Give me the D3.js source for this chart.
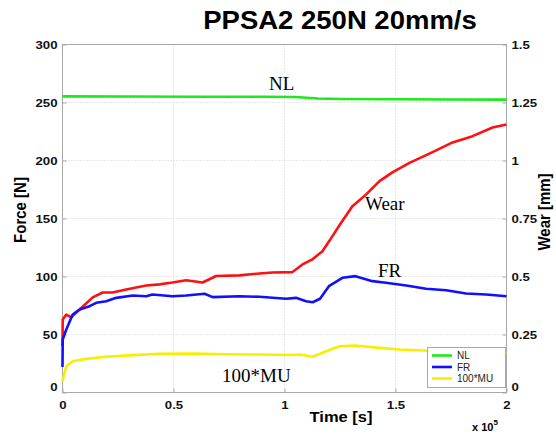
<!DOCTYPE html>
<html><head><meta charset="utf-8">
<script src="https://cdn.jsdelivr.net/npm/d3@7"></script>
<style>
body{margin:0;background:#fff;}
svg{display:block;}
</style></head>
<body><svg id="c" width="556" height="434"></svg>
<script>
// ---- data (time in units of 1e5 s) ----
const nlTime = [0,0.3,0.6,0.9,1.05,1.15,1.25,1.5,1.75,2.0];
const nlForce = [255.3,255.2,255.0,255.0,254.8,253.5,253.0,252.8,252.6,252.5];

const frTime = [0,0.001,0.017,0.046,0.077,0.122,0.152,0.197,0.242,0.317,0.377,0.405,0.495,0.557,0.640,0.676,0.797,0.887,1.007,1.052,1.097,1.127,1.16,1.20,1.261,1.32,1.396,1.457,1.548,1.638,1.728,1.818,1.908,2.0];
const frForce = [22,45.7,54.3,67.2,71.6,74.4,77.3,78.7,81.6,83.6,83.0,84.5,83.0,83.6,85.1,82.2,83.0,82.5,80.8,81.6,78.7,77.8,80.8,91.7,98.9,100.3,96.0,94.6,92.3,89.4,88.2,85.3,84.5,83.0];

const muTime = [0,0.017,0.046,0.107,0.197,0.317,0.437,0.586,0.737,0.887,1.036,1.07,1.126,1.188,1.248,1.32,1.428,1.518,1.622,1.8,2.0];
const mu100 = [9.7,22.7,27.0,29.0,30.8,32.2,33.4,33.6,33.0,32.8,32.3,32.8,30.8,35.6,39.9,40.5,38.5,37.1,36.2,35,34];

const wearTime = [0,0.001,0.017,0.039,0.077,0.136,0.181,0.225,0.287,0.377,0.437,0.495,0.557,0.631,0.692,0.797,0.887,0.946,1.036,1.081,1.126,1.171,1.216,1.255,1.306,1.368,1.428,1.486,1.563,1.667,1.757,1.847,1.937,2.0];
const wearMm = [0.20,0.315,0.336,0.324,0.358,0.41,0.431,0.431,0.444,0.461,0.466,0.474,0.484,0.474,0.502,0.505,0.513,0.517,0.519,0.552,0.574,0.609,0.674,0.732,0.803,0.854,0.911,0.949,0.99,1.036,1.078,1.105,1.142,1.155];

const xTicks = [0,0.5,1,1.5,2];
const forceTicks = [0,50,100,150,200,250,300];
const wearTicks = [0,0.25,0.5,0.75,1,1.25,1.5];
const legendLabels = ["NL","FR","100*MU"];

// ---- layout ----
const SANS="'Liberation Sans',Arial,sans-serif";
const SERIF="'Liberation Serif','Times New Roman',serif";
const L=62.5, R=506.5, T=44.5, B=392.5;
const svg=d3.select("#c");
const x=d3.scaleLinear().domain([0,2]).range([L,R]);
const yF=d3.scaleLinear().domain([0,300]).range([B,T]);
const yW=d3.scaleLinear().domain([0,1.5]).range([B,T]);

// grid
const g=svg.append("g");
g.selectAll(".vg").data(xTicks.slice(1,-1)).join("line")
 .attr("x1",d=>x(d)).attr("x2",d=>x(d)).attr("y1",T).attr("y2",B)
 .attr("stroke","#d0d0d0").attr("stroke-dasharray","1,2");
g.selectAll(".hg").data(forceTicks.slice(1,-1)).join("line")
 .attr("x1",L).attr("x2",R).attr("y1",d=>yF(d)).attr("y2",d=>yF(d))
 .attr("stroke","#d0d0d0").attr("stroke-dasharray","1,2");

// frame
svg.append("rect").attr("x",L).attr("y",T).attr("width",R-L).attr("height",B-T)
 .attr("fill","none").attr("stroke","#a8a8a8").attr("stroke-width",1);

// axes
const SX=1.15;
const axStyle=(sel)=>{sel.select(".domain").remove();
 sel.selectAll("line").attr("stroke","#a8a8a8");
 sel.selectAll("text").style("font-family",SANS).attr("font-weight","bold").attr("font-size","11.5px").attr("fill","#111")
  .attr("transform",function(){const tx=+(this.getAttribute("x")||0);return `translate(${tx},0) scale(${SX},1) translate(${-tx},0)`;});};
svg.append("g").attr("transform",`translate(0,${B})`)
 .call(d3.axisBottom(x).tickValues(xTicks).tickSize(-4).tickPadding(8).tickFormat(d3.format("~g")))
 .call(axStyle);
svg.append("g").attr("transform",`translate(${L},0)`)
 .call(d3.axisLeft(yF).tickValues(forceTicks).tickSize(-4).tickPadding(5))
 .call(axStyle)
 .call(s=>s.selectAll("text").filter(d=>d===0).attr("dy","-0.2em"));
svg.append("g").attr("transform",`translate(${R},0)`)
 .call(d3.axisRight(yW).tickValues(wearTicks).tickSize(-4).tickPadding(5).tickFormat(d3.format("~g")))
 .call(axStyle)
 .call(s=>s.selectAll("text").filter(d=>d===0).attr("dy","-0.2em"));

// lines
const lineF=(tt)=>d3.line().x((d,i)=>x(tt[i])).y(d=>yF(d));
const lineW=d3.line().x((d,i)=>x(wearTime[i])).y(d=>yW(d));
const draw=(path,data,color)=>svg.append("path").datum(data).attr("d",path)
 .attr("fill","none").attr("stroke",color).attr("stroke-width",2.6).attr("stroke-linejoin","round");
draw(lineF(nlTime),nlForce,"#1ee81e");
draw(lineW,wearMm,"#ff1010");
draw(lineF(frTime),frForce,"#1010ff");
draw(lineF(muTime),mu100,"#f5f000");

// annotations (serif)
const ann=[["NL",269,90],["Wear",365,210],["FR",378,277],["100*MU",222,382]];
svg.selectAll(".ann").data(ann).join("text")
 .attr("x",d=>d[1]).attr("y",d=>d[2]).text(d=>d[0])
 .style("font-family",SERIF).attr("font-size","19px").attr("fill","#000");

// legend
const lg=svg.append("g");
lg.append("rect").attr("x",427.5).attr("y",347.5).attr("width",78).attr("height",40)
 .attr("fill","#fff").attr("stroke","#a8a8a8");
const legCol=["#1ee81e","#1010ff","#f5f000"];
legendLabels.forEach((lab,i)=>{
 const yy=355.5+i*11.5;
 lg.append("line").attr("x1",432).attr("x2",452).attr("y1",yy).attr("y2",yy).attr("stroke",legCol[i]).attr("stroke-width",2.6);
 lg.append("text").attr("x",457).attr("y",yy+3.5).text(lab).style("font-family",SANS).attr("font-size","10px").attr("fill","#222");
});

// titles
svg.append("text").attr("transform","translate(340,29) scale(1.1,1)").attr("text-anchor","middle")
 .style("font-family",SANS).attr("font-weight","bold").attr("font-size","25px").text("PPSA2 250N 20mm/s");
svg.append("text").attr("transform","translate(341,422) scale(1.1,1)").attr("text-anchor","middle")
 .style("font-family",SANS).attr("font-weight","bold").attr("font-size","15px").text("Time [s]");
svg.append("text").attr("transform","translate(26,210) rotate(-90) scale(1,1.1)").attr("text-anchor","middle")
 .style("font-family",SANS).attr("font-weight","bold").attr("font-size","15px").text("Force [N]");
svg.append("text").attr("transform","translate(550,212) rotate(-90) scale(1,1.1)").attr("text-anchor","middle")
 .style("font-family",SANS).attr("font-weight","bold").attr("font-size","15px").text("Wear [mm]");
const ex=svg.append("text").attr("x",472).attr("y",431).style("font-family",SANS).attr("font-weight","bold").attr("font-size","11px");
ex.append("tspan").text("x 10");
ex.append("tspan").attr("dy",-6).attr("font-size","8px").text("5");
</script></body></html>
